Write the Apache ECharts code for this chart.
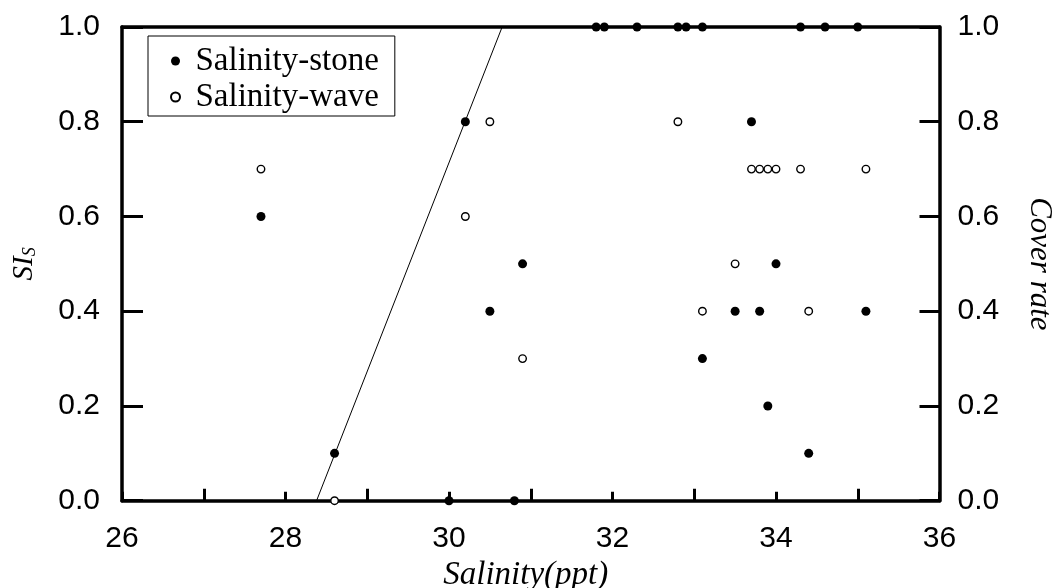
<!DOCTYPE html>
<html>
<head>
<meta charset="utf-8">
<script src="https://cdn.jsdelivr.net/npm/echarts@6/dist/echarts.min.js"></script>
<style>
  html, body { margin: 0; padding: 0; background: #fff; }
  #chart { width: 1057px; height: 588px; }
</style>
</head>
<body>
<div id="chart"></div>
<script>
// Salinity observations and the suitability index / cover rate they map to
const stoneSalinity = [31.8, 31.9, 32.3, 32.8, 32.9, 33.1, 34.3, 34.6, 35.0,
                       30.2, 33.7, 27.7, 30.9, 34.0, 30.5, 33.5, 33.8, 35.1,
                       33.1, 33.9, 34.4, 28.6, 30.0, 30.8];
const stoneValue    = [1.0, 1.0, 1.0, 1.0, 1.0, 1.0, 1.0, 1.0, 1.0,
                       0.8, 0.8, 0.6, 0.5, 0.5, 0.4, 0.4, 0.4, 0.4,
                       0.3, 0.2, 0.1, 0.1, 0.0, 0.0];

const waveSalinity = [30.5, 32.8, 27.7, 33.7, 33.8, 33.9, 34.0, 34.3, 35.1,
                      30.2, 33.5, 33.1, 34.4, 30.9, 28.6];
const waveValue    = [0.8, 0.8, 0.7, 0.7, 0.7, 0.7, 0.7, 0.7, 0.7,
                      0.6, 0.5, 0.4, 0.4, 0.3, 0.0];

// Rising limb of the suitability function (SI = 0 at 28.38, SI = 1 at 30.65)
const fitSalinity = [28.38, 30.65];
const fitValue    = [0.0, 1.0];

const seriesNames = ['Salinity-stone', 'Salinity-wave'];

const zip = (xs, ys) => xs.map((x, i) => [x, ys[i]]);

const sansFont = 'Liberation Sans';
const serifFont = 'Liberation Serif';

const chart = echarts.init(document.getElementById('chart'), null, { renderer: 'canvas' });

const yAxisBase = {
  type: 'value',
  min: 0,
  max: 1,
  interval: 0.2,
  splitLine: { show: false },
  axisLine: { show: true, lineStyle: { color: '#000', width: 3.5 } },
  axisTick: { show: true, inside: true, length: 21, lineStyle: { color: '#000', width: 3 } },
  axisLabel: {
    color: '#000', fontFamily: sansFont, fontSize: 30,
    formatter: v => v.toFixed(1)
  }
};

chart.setOption({
  animation: false,
  backgroundColor: '#fff',
  grid: {
    left: 122, right: 117.5, top: 27, bottom: 87.3,
    containLabel: false,
    outerBoundsMode: 'none'
  },
  legend: {
    data: seriesNames,
    orient: 'vertical',
    left: 148,
    top: 36,
    padding: [8, 16, 2, 22],
    itemWidth: 30,
    itemHeight: 9,
    itemGap: 2,
    borderColor: '#000',
    borderWidth: 1,
    backgroundColor: '#fff',
    textStyle: { color: '#000', fontFamily: serifFont, fontSize: 33, lineHeight: 34 }
  },
  xAxis: [
    {
      type: 'value',
      position: 'bottom',
      min: 26,
      max: 36,
      interval: 2,
      splitLine: { show: false },
      axisLine: { show: true, onZero: false, lineStyle: { color: '#000', width: 3.5 } },
      axisTick: { show: true, inside: true, length: 9, lineStyle: { color: '#000', width: 3 } },
      minorTick: { show: true, splitNumber: 2, length: 12, lineStyle: { color: '#000', width: 3 } },
      axisLabel: { color: '#000', fontFamily: sansFont, fontSize: 30, margin: 23 },
      name: 'Salinity(ppt)',
      nameLocation: 'middle',
      nameGap: 51,
      nameTextStyle: {
        color: '#000', fontFamily: serifFont, fontStyle: 'italic', fontSize: 33,
        padding: [0, 10, 0, 0]
      }
    },
    {
      type: 'value',
      position: 'top',
      min: 26,
      max: 36,
      splitLine: { show: false },
      axisLine: { show: true, onZero: false, lineStyle: { color: '#000', width: 3.5 } },
      axisTick: { show: false },
      axisLabel: { show: false }
    }
  ],
  yAxis: [
    Object.assign({}, yAxisBase, {
      position: 'left',
      axisLabel: Object.assign({}, yAxisBase.axisLabel, { margin: 22 }),
      name: '{a|SI}{b|S}',
      nameLocation: 'middle',
      nameRotate: 90,
      nameGap: 83,
      nameTextStyle: {
        rich: {
          a: { color: '#000', fontFamily: serifFont, fontStyle: 'italic', fontSize: 29 },
          b: { color: '#000', fontFamily: serifFont, fontStyle: 'italic', fontSize: 18, verticalAlign: 'bottom' }
        }
      }
    }),
    Object.assign({}, yAxisBase, {
      position: 'right',
      axisTick: { show: true, inside: true, length: 20, lineStyle: { color: '#000', width: 3 } },
      axisLabel: Object.assign({}, yAxisBase.axisLabel, { margin: 18 }),
      name: 'Cover rate',
      nameLocation: 'middle',
      nameRotate: -90,
      nameGap: 84,
      nameTextStyle: { color: '#000', fontFamily: serifFont, fontStyle: 'italic', fontSize: 31 }
    })
  ],
  series: [
    {
      name: 'fit',
      type: 'line',
      data: zip(fitSalinity, fitValue),
      showSymbol: false,
      symbol: 'none',
      lineStyle: { color: '#000', width: 1 },
      silent: true,
      z: 3
    },
    {
      name: seriesNames[0],
      type: 'scatter',
      data: zip(stoneSalinity, stoneValue),
      symbol: 'circle',
      symbolSize: 9,
      itemStyle: { color: '#000', opacity: 1 },
      z: 4
    },
    {
      name: seriesNames[1],
      type: 'scatter',
      yAxisIndex: 1,
      data: zip(waveSalinity, waveValue),
      symbol: 'circle',
      symbolSize: 7.5,
      itemStyle: { color: '#fff', borderColor: '#000', borderWidth: 1.4, opacity: 1 },
      z: 4
    }
  ]
});
</script>
</body>
</html>
